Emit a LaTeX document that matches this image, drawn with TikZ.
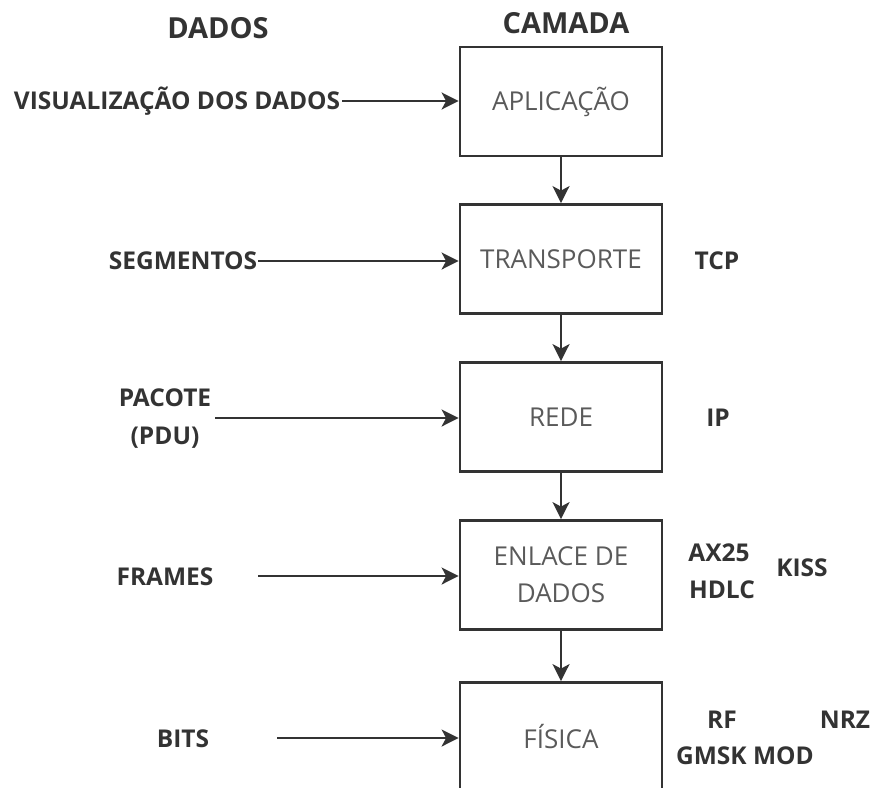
\documentclass[tikz,border=0pt]{standalone}
\usepackage{fontspec}
\setmainfont{Open Sans}
\usetikzlibrary{arrows.meta}
\definecolor{ink}{HTML}{333333}
\definecolor{boxtext}{HTML}{5a5a5a}
\tikzset{
  layer/.style={draw=ink, line width=2.8pt, minimum width=202pt, minimum height=109pt,
    inner sep=0pt, text=boxtext, font=\fontsize{26}{37}\selectfont, align=center},
  tag/.style={text=ink, font=\fontsize{24.5}{38}\selectfont\bfseries, inner sep=0pt, align=center},
  heading/.style={text=ink, font=\fontsize{29}{32}\selectfont\bfseries, inner sep=0pt},
  flow/.style={draw=ink, line width=2.4pt, -{Stealth[length=17pt, width=17pt, inset=4.5pt]}}
}
\begin{document}
\begin{tikzpicture}[x=1pt, y=-1pt]
  \useasboundingbox (0,0) rectangle (872,787);
  \clip (0,0) rectangle (872,787);

  % column headings
  \node[heading] (hdata) at (218,28) {DADOS};
  \node[heading] (hlayer) at (566,23) {CAMADA};

  % protocol stack
  \node[layer] (app) at (561,101.5) {APLICAÇÃO};
  \node[layer] (trans) at (561,259) {TRANSPORTE};
  \node[layer] (net) at (561,417) {REDE};
  \node[layer] (link) at (561,575) {ENLACE DE\\DADOS};
  \node[layer] (phys) at (561,737) {FÍSICA};

  \draw[flow] (app) -- (trans);
  \draw[flow] (trans) -- (net);
  \draw[flow] (net) -- (link);
  \draw[flow] (link) -- (phys);

  % data units per layer
  \node[tag] (dview) at (177,101) {VISUALIZAÇÃO DOS DADOS};
  \node[tag] (dseg) at (183,261) {SEGMENTOS};
  \node[tag] (dpkt) at (165,419) {PACOTE\\(PDU)};
  \node[tag] (dframe) at (165,577) {FRAMES};
  \node[tag] (dbits) at (183,739) {BITS};

  \coordinate (sview) at (342,101);
  \coordinate (sseg) at (258,261);
  \coordinate (spkt) at (215,418);
  \coordinate (sframe) at (258,576);
  \coordinate (sbits) at (277,738);

  \draw[flow] (sview) -- (sview -| app.west);
  \draw[flow] (sseg) -- (sseg -| trans.west);
  \draw[flow] (spkt) -- (spkt -| net.west);
  \draw[flow] (sframe) -- (sframe -| link.west);
  \draw[flow] (sbits) -- (sbits -| phys.west);

  % protocols per layer
  \node[tag] (ptcp) at (717,261) {TCP};
  \node[tag] (pip) at (718,418) {IP};
  \node[tag] (pax) at (719,553) {AX25};
  \node[tag] (phdlc) at (722,590) {HDLC};
  \node[tag] (pkiss) at (802,568) {KISS};
  \node[tag] (prf) at (722,720) {RF};
  \node[tag] (pnrz) at (845,720) {NRZ};
  \node[tag] (pgmsk) at (745,756) {GMSK MOD};
\end{tikzpicture}
\end{document}
